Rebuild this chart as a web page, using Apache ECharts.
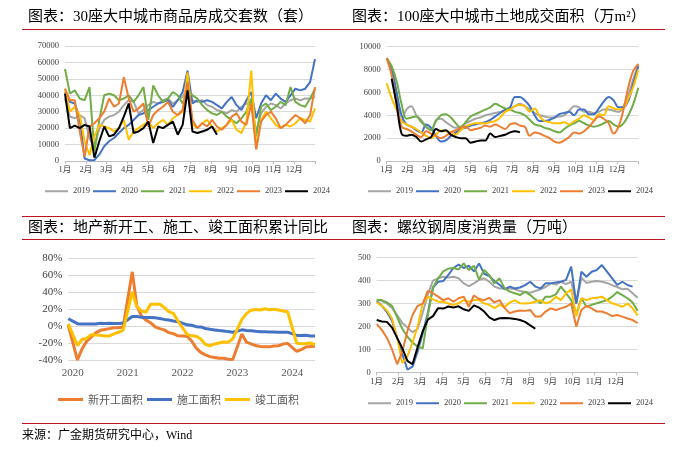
<!DOCTYPE html>
<html><head><meta charset="utf-8">
<script src="https://cdn.jsdelivr.net/npm/echarts/dist/echarts.min.js"></script>
<style>html,body{margin:0;padding:0;background:#fff;}#c{width:699px;height:453px;}</style>
</head><body><div id="c"></div>
<script>
// ---------- categories / labels ----------
const years = ['2019', '2020', '2021', '2022', '2023', '2024'];
const monthNames = ['1月', '2月', '3月', '4月', '5月', '6月', '7月', '8月', '9月', '10月', '11月', '12月'];
const weekCats = Array.from({length: 52}, (_, i) => 'W' + (i + 1));
const yoyMonths = ['2019-12'];
for (let y = 2020; y <= 2024; y++) for (let m = 1; m <= 12; m++) { if (y === 2024 && m > 6) break; yoyMonths.push(y + '-' + String(m).padStart(2, '0')); }
const yoyNames = ['新开工面积', '施工面积', '竣工面积'];

// ---------- panel 1: 30城商品房成交套数 (weekly) ----------
const sales2019 = [38000,27000,26000,28000,26000,14000,8000,20000,25000,27000,28000,30000,34000,37000,36000,29000,31000,34000,36000,35000,37000,38000,35000,37000,39000,45000,37000,36000,37000,34000,33000,31000,30000,29000,31000,30000,33000,35000,34000,18000,29000,33000,35000,34000,32000,35000,37000,38000,37000,38000,38000,39000];
const sales2020 = [42000,36000,35000,26000,1500,500,500,4000,9000,12000,14000,17000,20000,22000,25000,28000,29000,31000,33000,35000,36000,37000,33000,37000,42000,55000,35000,37000,36000,37000,36000,34000,32000,36000,39000,34000,31000,37000,42000,26000,35000,40000,37000,41000,38000,36000,40000,44000,43000,44000,48000,62000];
const sales2021 = [56000,41000,43000,38000,37000,45000,6000,25000,40000,41000,40000,37000,38000,40000,36000,40000,45000,25000,46000,40000,36000,38000,42000,40000,35000,44000,40000,38000,34000,31000,29000,28000,30000,27000,25000,23000,26000,30000,38000,15000,33000,35000,31000,33000,36000,34000,45000,36000,34000,33000,38000,44000];
const sales2022 = [44000,30000,33000,28000,12000,3500,15000,22000,21000,20000,18000,20000,25000,13000,18000,20000,22000,24000,20000,23000,25000,22000,26000,28000,30000,54000,22000,20000,23000,25000,21000,18000,20000,22000,25000,19000,17000,24000,55000,8000,25000,30000,26000,22000,20000,22000,21000,23000,26000,25000,24000,32000];
const sales2023 = [44000,37000,37000,18000,2500,21000,23000,26000,30000,38000,33000,35000,51000,38000,30000,32000,35000,21000,28000,31000,33000,36000,30000,28000,31000,48000,25000,20000,23000,21000,25000,21000,19000,22000,27000,29000,24000,22000,35000,7000,24000,28000,30000,26000,20000,22000,25000,28000,26000,23000,28000,45000];
const sales2024 = [41000,20000,21500,20000,22000,21000,2000,12000,21000,15000,16000,20000,27000,35000,17000,18000,20000,24000,11000,21000,20000,22000,24000,16000,22000,43000,18000,17000,18000,19000,21000,16000];

// ---------- panel 2: 100城土地成交面积 (weekly) ----------
const land2019 = [9000,8000,6000,3500,4500,4800,4000,3600,3000,2700,3600,3700,3400,3100,2900,3000,3300,3500,3700,3800,4000,4100,4200,4300,4400,4600,4800,5000,4800,4500,4200,4000,3900,3800,3800,3900,4000,4400,4800,4700,4300,4300,4200,4300,4500,4500,4400,4300,4800,5800,7200,8400];
const land2020 = [9000,8000,6000,4000,3200,3000,2700,2500,3200,2900,2200,1700,1800,2200,2500,2800,2900,3100,3200,3300,3400,3600,3900,4200,4500,4700,5600,5600,5300,4800,4000,3500,3500,3600,3800,4100,4200,4300,4000,4500,4500,4100,4100,4600,5200,5600,5300,4700,4700,5300,6800,8300];
const land2021 = [9000,8300,7000,5000,3700,3800,3900,3400,3000,2700,3500,4000,4100,3800,3300,2900,3400,3900,4100,4300,4500,4700,5000,4800,4600,4500,4300,4200,4000,3600,3200,3100,2900,2800,2600,2500,2800,3100,3300,3500,3300,3100,3000,3100,3300,3500,3200,3000,3300,4000,5000,6400];
const land2022 = [6800,5500,4500,3500,3200,3000,2800,2500,2200,2000,2300,2700,2600,2500,2300,2700,3000,3200,3300,3300,3300,3400,3500,3800,4300,4500,4800,4900,4800,4300,4600,3900,3500,3400,3300,3300,3400,3200,3500,3700,4000,3800,3600,4100,4000,4800,4600,4500,4600,5500,6500,8000];
const land2023 = [9000,7500,5000,3000,2800,2600,2300,2100,2600,2400,2200,2000,2200,2500,2700,2900,3000,2700,2800,2900,3100,3000,3200,3000,2800,3200,3300,3100,3000,2200,2500,2400,2200,2000,1700,1600,1800,2100,2500,2400,2600,3000,3500,3900,3700,3300,2400,3000,4500,6500,7900,8500];
const land2024 = [null,7200,5000,2400,2200,2300,2100,1700,1900,2100,2800,2600,2700,2300,2100,2000,2000,1600,1700,1800,1800,2400,2100,2200,2300,2500,2600,2500];

// ---------- panel 3: 新开工/施工/竣工 累计同比 (%) ----------
const newStart = [1,null,-40,-27,-18,-13,-8,-5,-4,-3,-2,-2,-1,null,64,24,12,7,4,-1,-3,-4.5,-7.7,-9,-11.4,null,-12,-17.5,-26,-31,-34,-36,-37,-38,-38,-39,-39.4,null,-9.4,-19,-21,-23,-24,-24.5,-24.5,-23.4,-23.2,-21.2,-20.4,null,-29.7,-27.8,-24.6,-24.2,-23.7];
const underConst = [8.7,null,2.9,2.6,2.5,2.6,2.6,3.4,3.0,3.3,3.0,3.2,3.7,null,11.4,11.2,10.5,10.1,10.2,9.9,9.0,7.9,7.1,6.1,5.2,null,1.5,1.0,-0.7,-1.0,-2.8,-3.7,-4.5,-5.3,-5.7,-6.5,-7.2,null,-4.4,-5.2,-5.6,-6.2,-6.6,-6.8,-7.1,-7.1,-7.3,-7.2,-7.2,null,-11.0,-11.1,-10.8,-11.6,-11.6];
const completed = [2.6,null,-22.9,-15.8,-14.5,-10.1,-10.5,-10.8,-11.6,-11.6,-9.2,-7.3,-4.9,null,40.4,23,17.9,16.4,25.7,25.7,26.0,22,17,15,6,null,-9.8,-11.5,-11.9,-15.3,-21.5,-23.3,-21.1,-19.9,-18.7,-19.0,-15.0,null,8.0,14.7,18.8,19.6,19.0,20.5,19.2,19.8,19.0,17.9,17.0,null,-20.2,-20.7,-20.4,-19.9,-21.8];

// ---------- panel 4: 螺纹钢周度消费量 (万吨) ----------
const rebar2019 = [315,312,300,280,250,215,195,175,190,260,340,400,410,417,414,417,410,388,376,388,403,410,395,374,366,366,366,362,355,350,347,355,362,372,388,383,395,385,395,300,412,390,395,398,395,390,380,372,362,365,345,325];
const rebar2020 = [310,290,262,225,150,80,12,25,90,170,260,370,395,398,425,455,470,455,465,440,475,430,420,398,382,362,374,366,370,380,395,374,366,388,388,392,395,403,461,300,439,417,439,446,468,439,410,381,395,381,374];
const rebar2021 = [315,315,305,290,240,190,155,130,112,105,250,370,410,440,452,455,448,475,446,465,405,446,424,388,410,366,352,345,337,352,337,318,301,330,330,340,374,345,315,255,323,286,294,301,308,315,330,350,337,323,305,268];
const rebar2022 = [305,290,270,235,150,40,70,130,200,300,330,318,308,308,300,294,301,315,308,315,315,301,294,280,294,285,304,315,301,300,302,308,315,301,308,330,315,345,362,245,323,315,323,325,330,315,301,294,286,300,279,248];
const rebar2023 = [210,185,150,100,35,90,180,250,290,300,355,345,330,315,323,308,323,330,286,335,320,315,325,305,315,280,258,265,270,268,272,243,243,265,279,272,279,286,300,199,272,290,279,265,265,257,245,250,243,235,228,215];
const rebar2024 = [228,222,220,195,150,105,50,35,110,180,230,245,280,278,287,283,288,275,268,292,282,265,240,228,236,237,236,233,228,220,205,190];

// ---------- styling ----------
const SERIF = "'Liberation Serif','Noto Sans CJK SC',serif";
const CJK = "'Noto Sans CJK SC','Liberation Serif',sans-serif";
const RED = '#c0141e';
const COLORS = ['#A5A5A5', '#4472C4', '#70AD47', '#FFC000', '#ED7D31', '#000000'];
const YOY_COLORS = ['#ED7D31', '#4472C4', '#FFC000'];
const LABEL = '#404040';
const GRIDC = '#d9d9d9';

const chart = echarts.init(document.getElementById('c'), null, {renderer: 'canvas'});

const catAxis = gi => ({type: 'category', gridIndex: gi, position: 'top', data: weekCats, boundaryGap: false, show: false});
const monthAxis = gi => ({
  type: 'value', gridIndex: gi, position: 'bottom', min: 0, max: 12, interval: 1,
  axisLine: {show: true, onZero: false, lineStyle: {color: '#bfbfbf'}},
  axisTick: {show: true, length: 3, lineStyle: {color: '#bfbfbf'}},
  splitLine: {show: false},
  axisLabel: {fontSize: 8.5, fontFamily: SERIF, color: LABEL, margin: 5, formatter: v => (v < 12 ? monthNames[v] : '')}
});
const valAxis = (gi, min, max, interval, fs, fmt) => ({
  type: 'value', gridIndex: gi, min, max, interval,
  axisLine: {show: false}, axisTick: {show: false},
  splitLine: {show: true, lineStyle: {color: GRIDC, width: 1}},
  axisLabel: {fontSize: fs, fontFamily: SERIF, color: LABEL, margin: 6, formatter: fmt}
});

function yearSeries(arrays, xIdx, yIdx, width, smooth) {
  return arrays.map((arr, k) => ({
    name: years[k], type: 'line', xAxisIndex: xIdx, yAxisIndex: yIdx, data: arr,
    symbol: 'none', smooth: smooth, lineStyle: {width: width, color: COLORS[k]}, itemStyle: {color: COLORS[k]}
  }));
}

const legendYears = (left, top) => ({
  data: years, left, top, icon: 'rect', itemWidth: 23, itemHeight: 2, itemGap: 3, padding: 0,
  selectedMode: false, textStyle: {fontSize: 8.5, fontFamily: SERIF, color: LABEL}
});

const titleStyle = {fontSize: 15, fontFamily: SERIF, fontWeight: 'normal', color: '#000'};

const option = {
  animation: false,
  backgroundColor: '#fff',
  title: [
    {text: '图表：30座大中城市商品房成交套数（套）', left: 28, top: 10, padding: 0, textStyle: titleStyle},
    {text: '图表：100座大中城市土地成交面积（万m²）', left: 352, top: 10, padding: 0, textStyle: titleStyle},
    {text: '图表：地产新开工、施工、竣工面积累计同比', left: 28, top: 221, padding: 0, textStyle: titleStyle},
    {text: '图表：螺纹钢周度消费量（万吨）', left: 352, top: 221, padding: 0, textStyle: titleStyle}
  ],
  grid: [
    {left: 65, top: 46, width: 250, height: 115},
    {left: 386.7, top: 46.7, width: 251.6, height: 114.3},
    {left: 68.3, top: 258.3, width: 246.7, height: 101.7},
    {left: 376.7, top: 257.7, width: 261, height: 114.6}
  ],
  xAxis: [
    catAxis(0), monthAxis(0),
    catAxis(1), monthAxis(1),
    {type: 'category', gridIndex: 2, position: 'bottom', data: yoyMonths, boundaryGap: false,
     axisLine: {show: false}, axisTick: {show: false}, splitLine: {show: false},
     axisLabel: {fontSize: 11, fontFamily: SERIF, color: '#595959', margin: 8,
       interval: (i, v) => v.endsWith('-01'), formatter: v => v.slice(0, 4)}},
    catAxis(3), monthAxis(3)
  ],
  yAxis: [
    valAxis(0, 0, 70000, 10000, 8.5, v => String(v)),
    valAxis(1, 0, 10000, 2000, 8.5, v => String(v)),
    valAxis(2, -40, 80, 20, 11, v => v + '%'),
    valAxis(3, 0, 500, 100, 8.5, v => String(v))
  ],
  legend: [
    legendYears(45, 187),
    legendYears(368, 187),
    {data: yoyNames, left: 58, top: 394, icon: 'rect', itemWidth: 25, itemHeight: 3, itemGap: 4, padding: 0,
     selectedMode: false, textStyle: {fontSize: 11, fontFamily: CJK, color: '#595959'}},
    legendYears(368, 399)
  ],
  graphic: [
    {type: 'line', shape: {x1: 22, y1: 29.5, x2: 665, y2: 29.5}, style: {stroke: RED, lineWidth: 1.2}},
    {type: 'line', shape: {x1: 22, y1: 216.5, x2: 665, y2: 216.5}, style: {stroke: RED, lineWidth: 1.2}},
    {type: 'line', shape: {x1: 22, y1: 239.5, x2: 665, y2: 239.5}, style: {stroke: RED, lineWidth: 1.2}},
    {type: 'line', shape: {x1: 22, y1: 423.5, x2: 665, y2: 423.5}, style: {stroke: RED, lineWidth: 1.2}},
    {type: 'text', left: 22, top: 430, style: {text: '来源：广金期货研究中心，Wind', font: "12px 'Liberation Serif','Noto Sans CJK SC'", fill: '#000'}}
  ],
  series: [
    ...yearSeries([sales2019, sales2020, sales2021, sales2022, sales2023, sales2024], 0, 0, 2, false),
    ...yearSeries([land2019, land2020, land2021, land2022, land2023, land2024], 2, 1, 2, 0.35),
    ...[newStart, underConst, completed].map((arr, k) => ({
      name: yoyNames[k], type: 'line', xAxisIndex: 4, yAxisIndex: 2, data: arr, connectNulls: true,
      symbol: 'none', lineStyle: {width: 3, color: YOY_COLORS[k]}, itemStyle: {color: YOY_COLORS[k]}
    })),
    ...yearSeries([rebar2019, rebar2020, rebar2021, rebar2022, rebar2023, rebar2024], 5, 3, 2, false)
  ]
};
chart.setOption(option);
</script></body></html>
